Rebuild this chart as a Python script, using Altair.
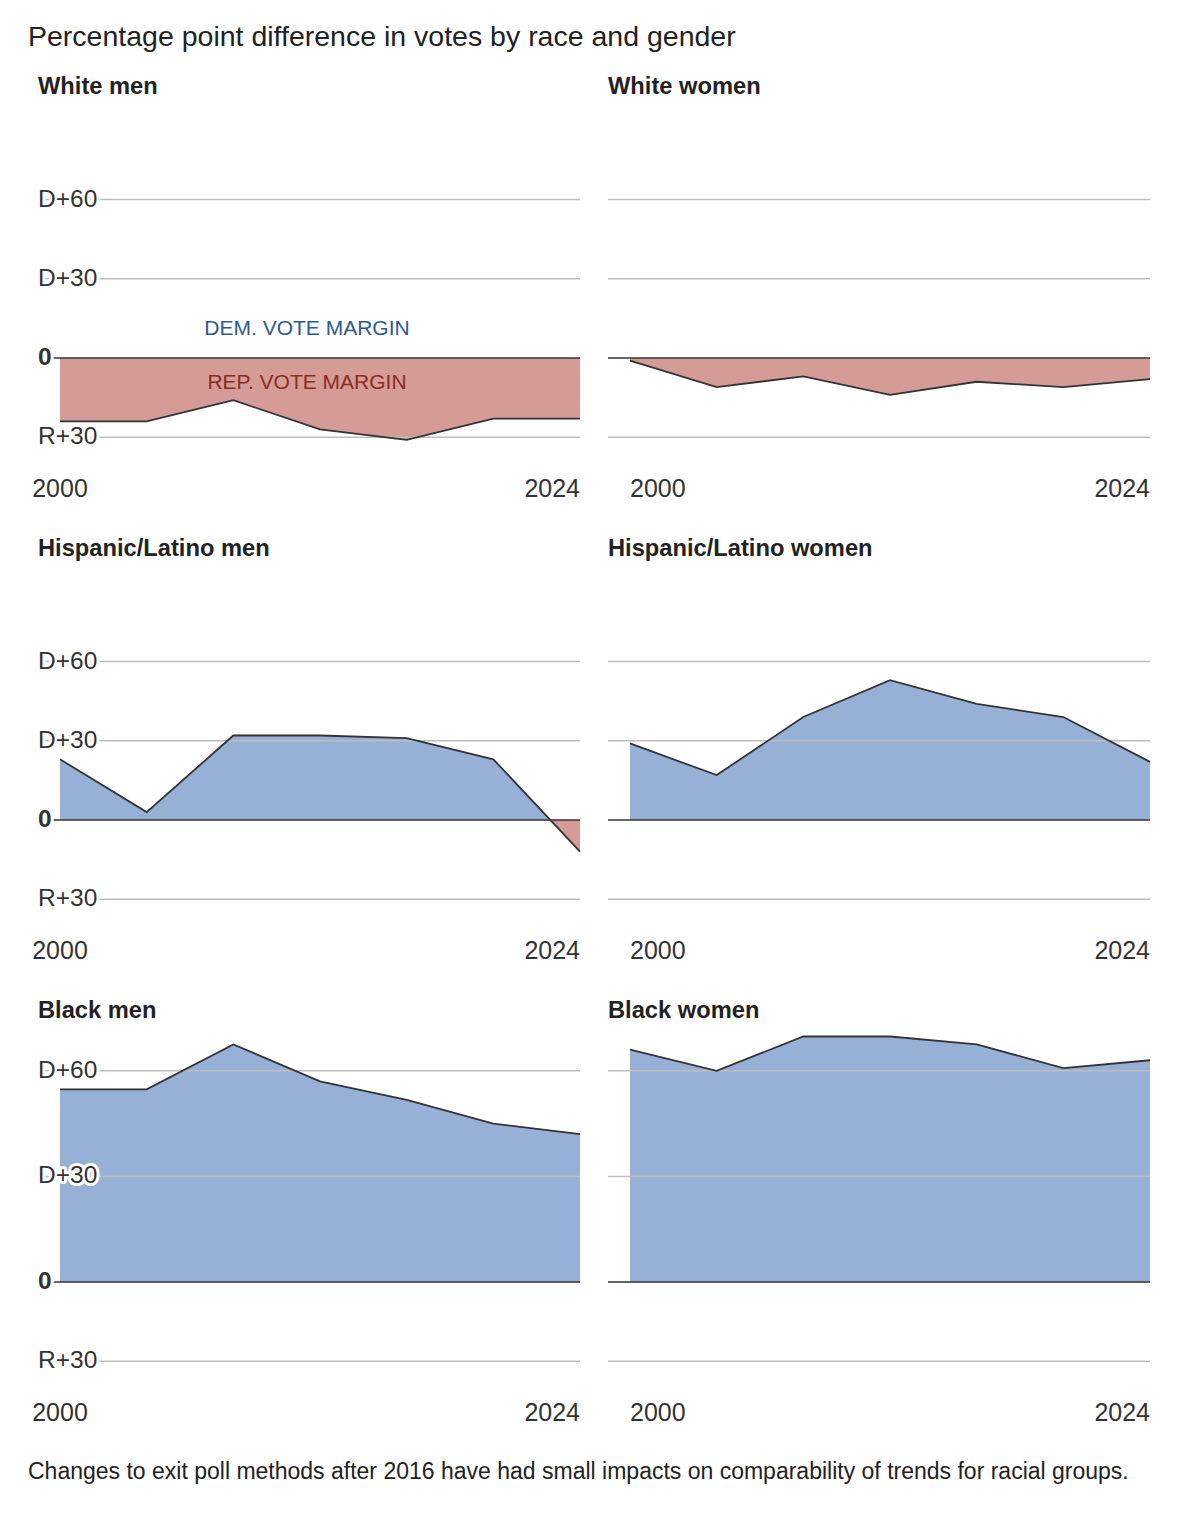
import altair as alt
import pandas as pd

# exit poll margins, Dem minus Rep, percentage points
YEARS = [2000, 2004, 2008, 2012, 2016, 2020, 2024]
WHITE_MEN = [-24, -24, -16, -27, -31, -23, -23]
WHITE_WOMEN = [-1, -11, -7, -14, -9, -11, -8]
HISPANIC_MEN = [23, 3, 32, 32, 31, 23, -12]
HISPANIC_WOMEN = [29, 17, 39, 53, 44, 39, 22]
BLACK_MEN = [73, 73, 90, 76, 69, 60, 56]
BLACK_WOMEN = [88, 80, 93, 93, 90, 81, 84]

# gridlines - the black panels sit their lines elsewhere
GRID_STD = [60, 30, -30]
GRID_BLACK = [80, 40, -30]
GRID_LABELS = ["D+60", "D+30", "R+30"]

TITLE = "Percentage point difference in votes by race and gender"
NOTE = ("Changes to exit poll methods after 2016 have had small impacts "
        "on comparability of trends for racial groups.")
DEM_NOTE = "DEM. VOTE MARGIN"
REP_NOTE = "REP. VOTE MARGIN"
NOTE_X = 2011.4
DEM_Y = 11
REP_Y = -9.5

BLUE = "#97b0d6"
RED = "#d59b96"
INK = "#333333"
GRID = "#bdbdbd"
FONT = "Liberation Sans"

W = 542
H = 461.5
PAD_L = 10  # extra room on the left of the left column
PX_PER_PT = 2.64
ZERO_PX = 300
X_OFF = 22  # where 2000 sits after the gridline start
PX_PER_YR = (W - X_OFF) / 24
Y_HI = ZERO_PX / PX_PER_PT
Y_LO = -(H - ZERO_PX) / PX_PER_PT
ys = alt.Scale(domain=[Y_LO, Y_HI], nice=False, zero=False)


def panel(name, values, grid_vals, left):
    w = W + PAD_L if left else W
    start = PAD_L if left else 0
    x_lo = 2000 - (X_OFF + start) / PX_PER_YR
    xs = alt.Scale(domain=[x_lo, 2024], nice=False, zero=False)
    X = alt.X("year:Q", scale=xs, axis=None)

    df = pd.DataFrame({"year": YEARS, "margin": values})
    top = max(max(values), 0)
    bot = min(min(values), 0)
    split = top / (top - bot)
    fill = alt.LinearGradient(
        gradient="linear", x1=0, x2=0, y1=0, y2=1,
        stops=[alt.GradientStop(color=BLUE, offset=split),
               alt.GradientStop(color=RED, offset=split)],
    )
    area = alt.Chart(df).mark_area(fill=fill, strokeWidth=0).encode(
        x=X, y=alt.Y("margin:Q", scale=ys, axis=None), y2=alt.datum(0)
    )
    grid = alt.Chart(pd.DataFrame({"value": grid_vals})).mark_rule(
        color=GRID, strokeWidth=1.5
    ).encode(y=alt.Y("value:Q", scale=ys, axis=None), x=alt.value(start), x2=alt.value(w))
    zero = alt.Chart(pd.DataFrame({"value": [0]})).mark_rule(
        color=INK, strokeWidth=1.6
    ).encode(y=alt.Y("value:Q", scale=ys, axis=None), x=alt.value(start), x2=alt.value(w))
    line = alt.Chart(df).mark_line(color=INK, strokeWidth=1.8).encode(
        x=X, y=alt.Y("margin:Q", scale=ys, axis=None)
    )
    layers = [area, grid, zero, line]

    if left:
        for labels, vals, weight in [(GRID_LABELS, grid_vals, "normal"), (["0"], [0], "bold")]:
            ldf = pd.DataFrame({"value": vals, "label": labels})
            enc = dict(x=alt.value(start), y=alt.Y("value:Q", scale=ys, axis=None),
                       text="label:N")
            style = dict(align="left", baseline="middle", font=FONT, fontSize=24.5,
                         fontWeight=weight)
            layers.append(alt.Chart(ldf).mark_text(
                fill="white", stroke="white", strokeWidth=6, strokeJoin="round", **style
            ).encode(**enc))
            layers.append(alt.Chart(ldf).mark_text(fill=INK, **style).encode(**enc))

    first = alt.Chart(pd.DataFrame({"year": [2000], "label": ["2000"]})).mark_text(
        align="center" if left else "left", baseline="middle", font=FONT, fontSize=25, fill=INK
    ).encode(x=X, y=alt.value(431), text="label:N")
    last = alt.Chart(pd.DataFrame({"year": [2024], "label": ["2024"]})).mark_text(
        align="right", baseline="middle", font=FONT, fontSize=25, fill=INK
    ).encode(x=X, y=alt.value(431), text="label:N")
    head = alt.Chart(pd.DataFrame({"t": [name]})).mark_text(
        align="left", baseline="middle", font=FONT, fontSize=23.7, fontWeight="bold", fill="#222"
    ).encode(x=alt.value(start), y=alt.value(29), text="t:N")
    layers += [first, last, head]

    if name == "White men":
        for txt, yv, col in [(DEM_NOTE, DEM_Y, "#2d5a96"), (REP_NOTE, REP_Y, "#8e2b24")]:
            layers.append(alt.Chart(pd.DataFrame({"year": [NOTE_X], "y": [yv], "t": [txt]}))
                          .mark_text(align="center", baseline="middle", font=FONT,
                                     fontSize=21, fill=col)
                          .encode(x=X, y=alt.Y("y:Q", scale=ys, axis=None), text="t:N"))

    return alt.layer(*layers).properties(width=w, height=H)


rows = [
    ("White men", WHITE_MEN, "White women", WHITE_WOMEN, GRID_STD),
    ("Hispanic/Latino men", HISPANIC_MEN, "Hispanic/Latino women", HISPANIC_WOMEN, GRID_STD),
    ("Black men", BLACK_MEN, "Black women", BLACK_WOMEN, GRID_BLACK),
]

grid_rows = [
    alt.hconcat(panel(a, va, g, True), panel(b, vb, g, False), spacing=23)
    for a, va, b, vb, g in rows
]

title = alt.Chart(pd.DataFrame({"t": [TITLE]})).mark_text(
    align="left", baseline="middle", font=FONT, fontSize=28.5, fill="#222"
).encode(x=alt.value(0), y=alt.value(29), text="t:N").properties(width=1122, height=50)

footer = alt.Chart(pd.DataFrame({"t": [NOTE]})).mark_text(
    align="left", baseline="middle", font=FONT, fontSize=23, fill="#222"
).encode(x=alt.value(0), y=alt.value(27.5), text="t:N").properties(width=1122, height=50)

chart = alt.vconcat(title, *grid_rows, footer, spacing=0).properties(
    padding={"left": 20, "top": 0, "right": 10, "bottom": 10}
).configure_view(stroke=None)

chart.save("out.html", embed_options={"renderer": "svg", "actions": False})
